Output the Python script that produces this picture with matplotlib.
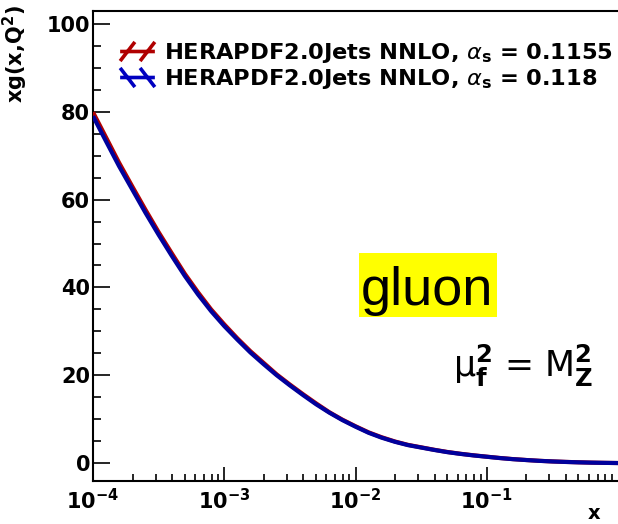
import matplotlib
matplotlib.use("Agg")
import matplotlib.pyplot as plt
from matplotlib.patches import Rectangle
from matplotlib.lines import Line2D
from matplotlib.path import Path
from matplotlib.ticker import FixedLocator, FixedFormatter, LogLocator, MultipleLocator, NullFormatter

# ---------------- data ----------------
x_vals = [1.00e-4, 1.26e-4, 1.58e-4, 2.00e-4, 2.51e-4, 3.16e-4, 3.98e-4, 5.01e-4, 6.31e-4, 7.94e-4,
          1.00e-3, 1.26e-3, 1.58e-3, 2.00e-3, 2.51e-3, 3.16e-3, 3.98e-3, 5.01e-3, 6.31e-3, 7.94e-3,
          1.00e-2, 1.26e-2, 1.58e-2, 2.00e-2, 2.51e-2, 3.16e-2, 3.98e-2, 5.01e-2, 6.31e-2, 7.94e-2,
          1.00e-1, 1.26e-1, 1.58e-1, 2.00e-1, 2.51e-1, 3.16e-1, 3.98e-1, 5.01e-1, 6.31e-1, 7.94e-1,
          1.0]
xg_118 = [79.0, 73.2, 67.6, 62.2, 57.0, 52.0, 47.2, 42.6, 38.4, 34.6,
          31.2, 28.1, 25.2, 22.5, 20.0, 17.7, 15.5, 13.4, 11.5, 9.8,
          8.3, 6.9, 5.8, 4.85, 4.1, 3.55, 3.0, 2.5, 2.1, 1.75,
          1.45, 1.15, 0.9, 0.7, 0.52, 0.38, 0.27, 0.18, 0.11, 0.06,
          0.02]
xg_1155 = [79.9, 74.1, 68.4, 62.9, 57.7, 52.6, 47.8, 43.1, 38.9, 35.0,
           31.6, 28.4, 25.5, 22.8, 20.2, 17.9, 15.7, 13.6, 11.6, 9.9,
           8.4, 7.0, 5.9, 4.92, 4.16, 3.6, 3.04, 2.54, 2.13, 1.78,
           1.47, 1.17, 0.92, 0.71, 0.53, 0.39, 0.28, 0.19, 0.11, 0.06,
           0.02]
labels = [r"HERAPDF2.0Jets NNLO, $\alpha_{\mathbf{s}}$ = 0.1155",
          r"HERAPDF2.0Jets NNLO, $\alpha_{\mathbf{s}}$ = 0.118"]
x_major = [1e-4, 1e-3, 1e-2, 1e-1]
x_major_labels = [r"$\mathbf{10^{-4}}$", r"$\mathbf{10^{-3}}$", r"$\mathbf{10^{-2}}$", r"$\mathbf{10^{-1}}$"]
y_major = [0, 20, 40, 60, 80, 100]

RED = "#b00000"
BLUE = "#00009c"
LEG_BLUE = "#0000c0"

plt.rcParams["font.family"] = ["DejaVu Sans"]
plt.rcParams["mathtext.fontset"] = "dejavusans"

W, H = 618, 524
fig = plt.figure(figsize=(W / 100, H / 100), dpi=100)
ax = fig.add_axes([93 / W, 43.3 / H, (W - 93) / W, (480.7 - 10.7) / H])

ax.plot(x_vals, xg_1155, color=RED, lw=3.0, solid_capstyle="butt", zorder=3)
ax.plot(x_vals, xg_118, color=BLUE, lw=3.0, solid_capstyle="butt", zorder=4)

ax.set_xscale("log")
ax.set_xlim(1e-4, 1.0)
ax.set_ylim(-4, 103)

for s in ["left", "bottom", "top", "right"]:
    ax.spines[s].set_linewidth(1.5)
ax.spines["right"].set_visible(False)

ax.xaxis.set_major_locator(FixedLocator(x_major))
ax.xaxis.set_major_formatter(FixedFormatter(x_major_labels))
ax.xaxis.set_minor_locator(LogLocator(base=10, subs=[2, 3, 4, 5, 6, 7, 8, 9], numticks=20))
ax.xaxis.set_minor_formatter(NullFormatter())
ax.yaxis.set_major_locator(FixedLocator(y_major))
ax.yaxis.set_minor_locator(MultipleLocator(5))

ax.tick_params(axis="both", which="both", direction="in", top=False, right=False, width=1.2)
ax.tick_params(axis="x", which="major", length=10, pad=5, labelsize=15)
ax.tick_params(axis="x", which="minor", length=5)
ax.tick_params(axis="y", which="major", length=12, pad=2, labelsize=15)
ax.tick_params(axis="y", which="minor", length=6)
for lab in ax.get_yticklabels():
    lab.set_fontweight("bold")

# axis titles
fig.text(15 / W, 1 - 5 / H, r"xg(x,Q$^{\mathbf{2}}$)", rotation=90, ha="center", va="top",
         fontsize=15, fontweight="bold")
fig.text(594 / W, 1 - 523 / H, "x", ha="center", va="bottom", fontsize=14, fontweight="bold")

# legend symbols: hatched-band style marker (two diagonal strokes + centre line)
def band_marker(sign):
    verts = [(-1.0, -0.55 * sign), (-0.15, 0.55 * sign),
             (0.15, -0.55 * sign), (1.0, 0.55 * sign),
             (-1.0, 0.0), (1.0, 0.0)]
    codes = [Path.MOVETO, Path.LINETO] * 3
    return Path(verts, codes)

red_h = Line2D([], [], linestyle="none", marker=band_marker(1), markersize=25,
               markeredgewidth=2.6, color=RED)
blue_h = Line2D([], [], linestyle="none", marker=band_marker(-1), markersize=25,
                markeredgewidth=2.6, color=LEG_BLUE)
leg = ax.legend([red_h, blue_h], labels, numpoints=1,
                loc="upper left", bbox_to_anchor=(120 / W, 1 - 41 / H),
                bbox_transform=fig.transFigure, frameon=False, borderpad=0,
                borderaxespad=0, handlelength=1.55, handleheight=0.8,
                handletextpad=0.42, labelspacing=0.08,
                prop={"weight": "bold", "size": 16.2})

# gluon label with yellow box
fig.patches.append(Rectangle((359 / W, 1 - 317 / H), 138 / W, 64 / H,
                             transform=fig.transFigure, facecolor="#ffff00",
                             edgecolor="none", zorder=5))
fig.text(361 / W, 1 - 305 / H, "gluon", ha="left", va="baseline", fontsize=39,
         family="Liberation Sans", zorder=6)

fig.text(453 / W, 1 - 377 / H,
         r"μ$_{\mathbf{f}}^{\mathbf{2}}$ = M$_{\mathbf{Z}}^{\mathbf{2}}$",
         ha="left", va="baseline", fontsize=25)

fig.savefig("out.png", dpi=100)
